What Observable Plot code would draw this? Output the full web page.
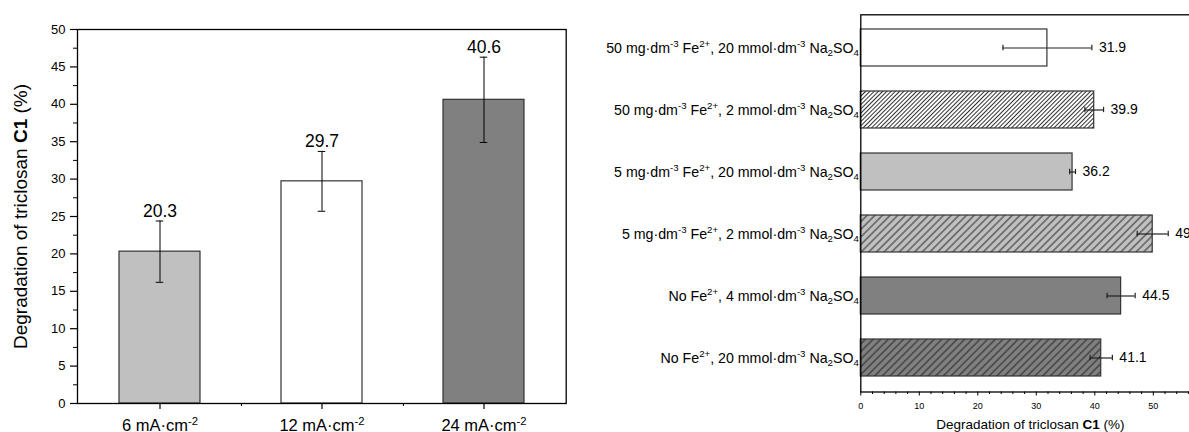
<!DOCTYPE html>
<html><head><meta charset="utf-8">
<script src="https://cdn.jsdelivr.net/npm/d3@7"></script>
<script src="https://cdn.jsdelivr.net/npm/@observablehq/plot@0.6"></script>
<style>
html,body{margin:0;padding:0;background:#fff;}
body{width:1189px;height:432px;overflow:hidden;position:relative;font-family:"Liberation Sans",Arial,sans-serif;}
#left{position:absolute;left:0;top:0;width:590px;height:432px;}
#right{position:absolute;left:590px;top:0;width:640px;height:432px;}
svg{max-width:none !important;}
</style></head>
<body><div id="left"></div><div id="right"></div>
<script>
// ---------- data ----------
const leftCategories = ["6 mA·cm^{-2}", "12 mA·cm^{-2}", "24 mA·cm^{-2}"];
const leftValues = [20.3, 29.7, 40.6];
const leftErrors = [4.1, 4.0, 5.7];
const leftYTicks = [0, 5, 10, 15, 20, 25, 30, 35, 40, 45, 50];
const leftYMinorTicks = [2.5, 7.5, 12.5, 17.5, 22.5, 27.5, 32.5, 37.5, 42.5, 47.5];

const rightCategories = [
  "50 mg·dm^{-3} Fe^{2+}, 20 mmol·dm^{-3} Na_{2}SO_{4}",
  "50 mg·dm^{-3} Fe^{2+}, 2 mmol·dm^{-3} Na_{2}SO_{4}",
  "5 mg·dm^{-3} Fe^{2+}, 20 mmol·dm^{-3} Na_{2}SO_{4}",
  "5 mg·dm^{-3} Fe^{2+}, 2 mmol·dm^{-3} Na_{2}SO_{4}",
  "No Fe^{2+}, 4 mmol·dm^{-3} Na_{2}SO_{4}",
  "No Fe^{2+}, 20 mmol·dm^{-3} Na_{2}SO_{4}"
];
const rightValues = [31.9, 39.9, 36.2, 49.9, 44.5, 41.1];
const rightErrors = [7.6, 1.6, 0.5, 2.65, 2.4, 1.9];
const rightXTicks = [0, 10, 20, 30, 40, 50];
const rightXMinorTicks = [2, 4, 6, 8, 12, 14, 16, 18, 22, 24, 26, 28, 32, 34, 36, 38, 42, 44, 46, 48, 52, 54, 56, 58];

const yTitle = "Degradation of triclosan **C1** (%)";
const xTitle = "Degradation of triclosan **C1** (%)";

// ---------- styles ----------
const leftFills = ["#c0c0c0", "#ffffff", "#808080"];
const rightFills = ["#ffffff", "url(#hatchWhite)", "#c0c0c0", "url(#hatchLight)", "#808080", "url(#hatchDark)"];
const FONT = "Liberation Sans, Arial, sans-serif";

function setRich(el, str, fs) {
  const parts = str.split(/(\^\{[^}]*\}|_\{[^}]*\}|\*\*[^*]*\*\*)/).filter(s => s !== "");
  const sel = d3.select(el);
  sel.text(null);
  let shift = 0;
  for (const p of parts) {
    let t, size = null, target = 0, bold = false;
    if (p.startsWith("^{")) { t = p.slice(2, -1); size = 0.68; target = -0.38 * fs; }
    else if (p.startsWith("_{")) { t = p.slice(2, -1); size = 0.68; target = 0.24 * fs; }
    else if (p.startsWith("**")) { t = p.slice(2, -2); bold = true; }
    else t = p;
    const ts = sel.append("tspan").text(t);
    if (target - shift !== 0) ts.attr("dy", (target - shift).toFixed(2));
    shift = target;
    if (size) ts.attr("font-size", (size * fs).toFixed(2));
    if (bold) ts.attr("font-weight", "bold");
  }
}
function richAll(svg) {
  svg.querySelectorAll("text").forEach(el => {
    const s = el.textContent;
    if (/\^\{|_\{|\*\*/.test(s)) setRich(el, s, parseFloat(getComputedStyle(el).fontSize));
  });
}

// ---------- left chart ----------
const L = {width: 590, left: 77, right: 565.7, top: 29, bottom: 403};
const lStep = (L.right - L.left) / 3;
const lBand = lStep * 0.5;
const leftRows = leftCategories.map((c, i) => ({cat: c, value: leftValues[i], err: leftErrors[i], i}));

const leftPlot = Plot.plot({
  width: L.width, height: 432,
  marginLeft: L.left, marginRight: L.width - L.right, marginTop: L.top, marginBottom: 432 - L.bottom,
  style: {fontFamily: FONT, background: "transparent", color: "#000", overflow: "visible"},
  x: {domain: leftCategories, paddingInner: 0.5, paddingOuter: 0.25, axis: null},
  y: {domain: [0, 50], axis: null},
  color: {type: "identity"},
  marks: [
    Plot.barY(leftRows, {x: "cat", y: "value", fill: d => leftFills[d.i], stroke: "#333", strokeWidth: 1.2}),
    Plot.ruleX(leftRows, {x: "cat", y1: d => d.value - d.err, y2: d => d.value + d.err, stroke: "#000", strokeWidth: 1}),
    Plot.tickY(leftRows, {x: "cat", y: d => d.value + d.err, insetLeft: (lBand - 8) / 2, insetRight: (lBand - 8) / 2, stroke: "#000"}),
    Plot.tickY(leftRows, {x: "cat", y: d => d.value - d.err, insetLeft: (lBand - 8) / 2, insetRight: (lBand - 8) / 2, stroke: "#000"}),
    Plot.text(leftRows, {x: "cat", y: d => d.value + d.err, text: d => d.value.toFixed(1), dy: -4, lineAnchor: "bottom", fontSize: 17.5, fill: "#000"}),
    Plot.frame({stroke: "#000", strokeWidth: 1.3}),
    Plot.axisY({ticks: leftYTicks, tickSize: 7, tickPadding: 5, fontSize: 13, tickFormat: d => String(d), label: null, stroke: "#000", strokeWidth: 1.2}),
    Plot.axisY({ticks: leftYMinorTicks, tickSize: 4, tickPadding: 0, tickFormat: () => "", label: null, stroke: "#000"}),
    Plot.axisX({ticks: leftCategories, tickSize: 6, tickPadding: 10, fontSize: 16.5, tickFormat: d => d, label: null, stroke: "#000", strokeWidth: 1.2}),
    Plot.axisX({ticks: leftCategories.slice(0, -1), tickSize: 3, dx: lStep / 2, tickFormat: () => "", label: null, stroke: "#000"}),
    Plot.text([yTitle], {frameAnchor: "left", rotate: -90, dx: -57, textAnchor: "middle", fontSize: 19, text: d => d, fill: "#000"})
  ]
});
document.getElementById("left").appendChild(leftPlot);

// ---------- right chart ----------
const R = {width: 640, left: 270.3, right: 621.3, top: 14.3, bottom: 391.5};
const rStep = (R.bottom - R.top) / 6;
const rBand = rStep * 0.6;
const rightRows = rightCategories.map((c, i) => ({label: c, value: rightValues[i], err: rightErrors[i], i}));

const rightPlot = Plot.plot({
  width: R.width, height: 432,
  marginLeft: R.left, marginRight: R.width - R.right, marginTop: R.top, marginBottom: 432 - R.bottom,
  style: {fontFamily: FONT, background: "transparent", color: "#000", overflow: "visible"},
  x: {domain: [0, 60], axis: null},
  y: {domain: rightCategories, paddingInner: 0.4, paddingOuter: 0.2, axis: null},
  color: {type: "identity"},
  marks: [
    Plot.barX(rightRows, {y: "label", x: "value", fill: d => rightFills[d.i], stroke: "#333", strokeWidth: 1.2}),
    Plot.ruleY(rightRows, {y: "label", x1: d => d.value - d.err, x2: d => d.value + d.err, stroke: "#222", strokeWidth: 1.2}),
    Plot.tickX(rightRows, {y: "label", x: d => d.value + d.err, insetTop: (rBand - 6) / 2, insetBottom: (rBand - 6) / 2, stroke: "#222", strokeWidth: 1.2}),
    Plot.tickX(rightRows, {y: "label", x: d => d.value - d.err, insetTop: (rBand - 6) / 2, insetBottom: (rBand - 6) / 2, stroke: "#222", strokeWidth: 1.2}),
    Plot.text(rightRows, {y: "label", x: d => d.value + d.err, text: d => d.value.toFixed(1), dx: 7, textAnchor: "start", fontSize: 14, fill: "#000"}),
    Plot.frame({stroke: "#000", strokeWidth: 1.3}),
    Plot.axisX({ticks: rightXTicks, tickSize: 4, tickPadding: 7, fontSize: 9, tickFormat: d => String(d), label: null, stroke: "#000"}),
    Plot.axisX({ticks: rightXMinorTicks, tickSize: 2.5, tickFormat: () => "", label: null, stroke: "#000"}),
    Plot.axisY({ticks: rightCategories, tickSize: 0, tickPadding: 2, fontSize: 14.2, tickFormat: d => d, label: null}),
    Plot.text([xTitle], {frameAnchor: "bottom", dy: 37, dx: -6, lineAnchor: "bottom", fontSize: 13.5, text: d => d, fill: "#000"})
  ]
});
document.getElementById("right").appendChild(rightPlot);

// hatch patterns
const defs = d3.select(rightPlot).insert("defs", ":first-child");
function hatch(id, bg, spacing) {
  const p = defs.append("pattern").attr("id", id).attr("patternUnits", "userSpaceOnUse")
    .attr("width", spacing).attr("height", spacing).attr("patternTransform", "rotate(45)");
  p.append("rect").attr("width", spacing).attr("height", spacing).attr("fill", bg);
  p.append("line").attr("x1", spacing / 2).attr("y1", 0).attr("x2", spacing / 2).attr("y2", spacing)
    .attr("stroke", "#1a1a1a").attr("stroke-width", 0.9);
}
hatch("hatchWhite", "#ffffff", 3.0);
hatch("hatchLight", "#c0c0c0", 5.4);
hatch("hatchDark", "#808080", 5.4);

richAll(leftPlot);
richAll(rightPlot);
</script>
</body></html>
